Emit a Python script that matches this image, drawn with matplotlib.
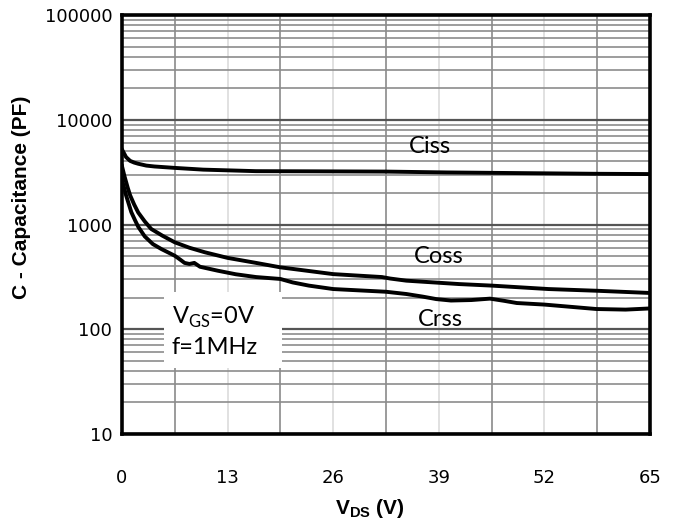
#!/usr/bin/env python
"""Capacitance vs drain-source voltage (Ciss / Coss / Crss), log scale."""

import matplotlib
matplotlib.use("Agg")
import matplotlib.pyplot as plt
from matplotlib.patches import Rectangle
from matplotlib.ticker import FixedLocator, LogLocator, NullFormatter

# Ciss curve
ciss_v = [0, 0.5, 1, 1.5, 2, 3, 4, 6.5, 10, 16.5, 23, 32.5, 40, 48, 58, 65]
ciss_c = [5200, 4400, 4050, 3900, 3800, 3650, 3580, 3470, 3340, 3230, 3220,
          3200, 3140, 3100, 3050, 3030]

# Coss curve
coss_v = [0, 0.3, 0.7, 1, 1.5, 2, 2.8, 3.6, 5, 6.5, 8.3, 10.2, 13, 16.5, 19.5,
          26, 32, 33, 35, 41.5, 45.5, 52.5, 58.5, 65]
coss_c = [3600, 2900, 2250, 1900, 1550, 1300, 1070, 906, 780, 676, 600, 543,
          480, 430, 390, 336, 315, 305, 291, 270, 261, 242, 233, 222]

# Crss curve
crss_v = [0, 0.1, 0.5, 1.15, 1.6, 2.0, 2.8, 3.8, 4.85, 6.5, 7.2, 7.7, 8.3, 8.9,
          9.6, 11.8, 14, 16.5, 19.5, 21, 23, 26, 32.5, 35, 37, 38.7, 40.5, 43,
          45.3, 47, 48.6, 52, 58.4, 62, 65]
crss_c = [2800, 2500, 1900, 1310, 1100, 950, 770, 650, 583, 503, 460, 430, 420,
          430, 395, 362, 335, 315, 302, 280, 261, 242, 228, 217, 205, 194, 188,
          190, 196, 187, 178, 172, 156, 154, 158]

x_ticks = [0, 13, 26, 39, 52, 65]
x_minor = [6.5, 19.5, 32.5, 45.5, 58.5]
y_ticks = [10, 100, 1000, 10000, 100000]
y_ticklabels = ["10", "100", "1000", "10000", "100000"]

# curve labels: (text, V, C)
curve_labels = [("Ciss", 37.9, 5600), ("Coss", 39.0, 500), ("Crss", 39.2, 125)]

plt.rcParams["mathtext.fontset"] = "custom"
plt.rcParams["mathtext.rm"] = "Lato"
plt.rcParams["mathtext.bf"] = "Liberation Sans:bold"


def main():
    fig = plt.figure(figsize=(6.75, 5.19), dpi=100)
    ax = fig.add_axes([122 / 675, 85 / 519, 528 / 675, 419 / 519])

    ax.set_yscale("log")
    ax.set_xlim(0, 65)
    ax.set_ylim(10, 100000)
    ax.set_axisbelow(True)

    # grid: x major light, x minor dark; y major dark, y minor gray
    ax.xaxis.set_major_locator(FixedLocator(x_ticks))
    ax.xaxis.set_minor_locator(FixedLocator(x_minor))
    ax.yaxis.set_major_locator(FixedLocator(y_ticks))
    ax.yaxis.set_minor_locator(LogLocator(base=10, subs=range(2, 10)))
    ax.yaxis.set_minor_formatter(NullFormatter())
    ax.set_yticklabels(y_ticklabels)

    ax.grid(True, which="major", axis="x", color="#d9d9d9", lw=1.1)
    ax.grid(True, which="minor", axis="x", color="#808080", lw=1.1)
    ax.grid(True, which="major", axis="y", color="#555555", lw=1.6)
    ax.grid(True, which="minor", axis="y", color="#8c8c8c", lw=1.2)

    ax.tick_params(which="both", length=0)
    ax.tick_params(axis="x", pad=25, labelsize=13)
    ax.tick_params(axis="y", pad=7, labelsize=13)

    for sp in ax.spines.values():
        sp.set_linewidth(2.6)
        sp.set_color("black")
        sp.set_zorder(5)

    for v, c in [(ciss_v, ciss_c), (coss_v, coss_c), (crss_v, crss_c)]:
        ax.plot(v, c, color="black", lw=2.8, solid_joinstyle="round")

    for text, v, c in curve_labels:
        ax.text(v, c, text, family="Lato", fontsize=17, ha="center", va="center", zorder=4)

    # condition box
    ax.add_patch(Rectangle((0.0795, 0.1575), 0.2235, 0.181, transform=ax.transAxes,
                           facecolor="white", edgecolor="none", zorder=1))
    ax.text(0.094, 0.279, r"V$_{\mathrm{GS}}$=0V", transform=ax.transAxes,
            family="Lato", fontsize=17, ha="left", va="center", zorder=4)
    ax.text(0.094, 0.2076, "f=1MHz", transform=ax.transAxes,
            family="Lato", fontsize=17, ha="left", va="center", zorder=4)

    fig.text(370 / 675, 1 - 508 / 519, r"V$_{\mathbf{DS}}$ (V)", family="Liberation Sans",
             weight="bold", fontsize=15, ha="center", va="center")
    fig.text(22 / 675, 1 - 197 / 519, "C - Capacitance (PF)", family="Liberation Sans",
             weight="bold", fontsize=15, ha="center", va="center", rotation=90)

    fig.savefig("out.png", dpi=100)
    plt.close(fig)


if __name__ == "__main__":
    main()
